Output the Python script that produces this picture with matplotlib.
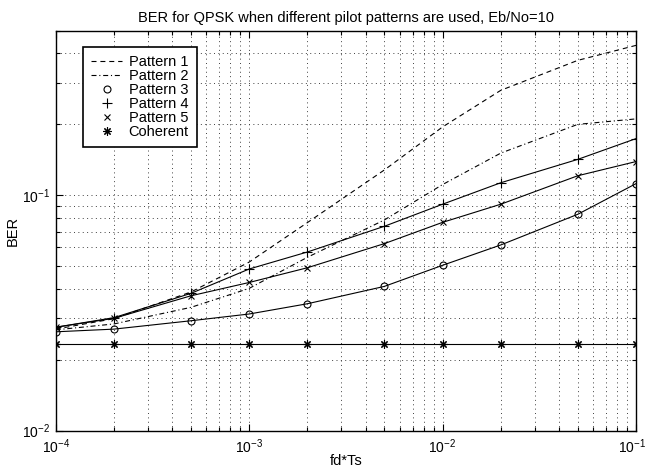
import matplotlib
matplotlib.use('Agg')
import matplotlib.pyplot as plt
from matplotlib.lines import Line2D
from matplotlib.transforms import ScaledTranslation
from matplotlib.ticker import LogLocator, LogFormatterMathtext, NullFormatter

plt.rcParams['font.family'] = ['Liberation Sans', 'DejaVu Sans']
plt.rcParams['mathtext.fontset'] = 'custom'
plt.rcParams['mathtext.rm'] = 'Liberation Sans'
plt.rcParams['mathtext.it'] = 'Liberation Sans:italic'
plt.rcParams['mathtext.default'] = 'regular'

# ---- data ----
fd_ts = [1e-4, 2e-4, 5e-4, 1e-3, 2e-3, 5e-3, 1e-2, 2e-2, 5e-2, 1e-1]
pattern1 = [0.0270, 0.0299, 0.0388, 0.0520, 0.0765, 0.128, 0.195, 0.279, 0.374, 0.433]
pattern2 = [0.0268, 0.0284, 0.0334, 0.0402, 0.0545, 0.0785, 0.111, 0.151, 0.200, 0.211]
pattern3 = [0.0263, 0.0270, 0.0293, 0.0313, 0.0346, 0.0410, 0.0504, 0.0615, 0.0830, 0.112]
pattern4 = [0.0275, 0.0302, 0.0383, 0.0486, 0.0574, 0.0738, 0.0916, 0.113, 0.142, 0.174]
pattern5 = [0.0275, 0.0300, 0.0374, 0.0426, 0.0492, 0.0623, 0.0767, 0.0916, 0.121, 0.139]
coherent = [0.0233] * 10

labels = ['Pattern 1', 'Pattern 2', 'Pattern 3', 'Pattern 4', 'Pattern 5', 'Coherent']
title = 'BER for QPSK when different pilot patterns are used, Eb/No=10'
xlabel = 'fd*Ts'
ylabel = 'BER'

fig = plt.figure(figsize=(6.46, 4.69), dpi=100)
ax = fig.add_axes([0.0862, 0.0817, 0.8983, 0.8529])

lw = 0.8
dash1 = (0, (4.5, 3.5))
dash2 = (0, (4.5, 2.5, 1, 2.5))
ax.loglog(fd_ts, pattern1, color='k', lw=lw, linestyle=dash1)
ax.loglog(fd_ts, pattern2, color='k', lw=lw, linestyle=dash2)
mk = dict(color='k', lw=lw, mec='k', mew=0.8)
ax.loglog(fd_ts, pattern3, marker='o', mfc='none', ms=5, **mk)
ax.loglog(fd_ts, pattern4, marker='+', ms=6.5, **mk)
ax.loglog(fd_ts, pattern5, marker='x', ms=5, **mk)
ax.loglog(fd_ts, coherent, marker=(8, 2, 0), ms=6, **mk)

ax.set_xlim(1e-4, 1e-1)
ax.set_ylim(1e-2, 0.5)

ax.xaxis.set_major_locator(LogLocator(base=10, numticks=10))
ax.yaxis.set_major_locator(LogLocator(base=10, numticks=10))
ax.xaxis.set_minor_locator(LogLocator(base=10, subs=range(2, 10), numticks=20))
ax.yaxis.set_minor_locator(LogLocator(base=10, subs=range(2, 10), numticks=20))
ax.xaxis.set_major_formatter(LogFormatterMathtext())
ax.yaxis.set_major_formatter(LogFormatterMathtext())
ax.xaxis.set_minor_formatter(NullFormatter())
ax.yaxis.set_minor_formatter(NullFormatter())

ax.grid(True, which='both', color='0.25', linestyle=(0, (1, 3.5)), linewidth=0.7)
ax.set_axisbelow(True)
ax.tick_params(which='both', direction='in', top=True, right=True, labelsize=10, width=0.8)
ax.tick_params(which='major', length=5, pad=4)
ax.tick_params(which='minor', length=3)
ax.tick_params(axis='x', which='major', pad=4.5)
for s in ax.spines.values():
    s.set_linewidth(1.0)

ax.set_title(title, fontsize=10.5, pad=6.5)
ax.set_xlabel(xlabel, fontsize=10.5, labelpad=-1)
ax.set_ylabel(ylabel, fontsize=10.5, labelpad=1.5)

handles = [
    Line2D([], [], color='k', lw=lw, linestyle=dash1),
    Line2D([], [], color='k', lw=lw, linestyle=dash2),
    Line2D([], [], color='k', linestyle='none', marker='o', mfc='none', mec='k', ms=5, mew=0.8),
    Line2D([], [], color='k', linestyle='none', marker='+', mec='k', ms=6.5, mew=0.8),
    Line2D([], [], color='k', linestyle='none', marker='x', mec='k', ms=5, mew=0.8),
    Line2D([], [], color='k', linestyle='none', marker=(8, 2, 0), mec='k', ms=6, mew=0.8),
]
leg = ax.legend(handles, labels, loc='upper left', bbox_to_anchor=(0.0476, 0.96), borderaxespad=0,
                fontsize=10.5, fancybox=False, framealpha=1, edgecolor='k',
                handlelength=2.1, handletextpad=0.45, labelspacing=0.0,
                borderpad=0.55)
leg.get_frame().set_linewidth(1.2)

# nudge the right-most x tick label so it stays inside the figure
fig.canvas.draw()
last = ax.xaxis.get_majorticklabels()[-1]
for t in ax.xaxis.get_major_ticks():
    if abs(t.get_loc() - 1e-1) < 1e-9:
        lab = t.label1
        lab.set_transform(lab.get_transform() + ScaledTranslation(-4 / 100, 0, fig.dpi_scale_trans))

fig.savefig('out.png', dpi=100)
